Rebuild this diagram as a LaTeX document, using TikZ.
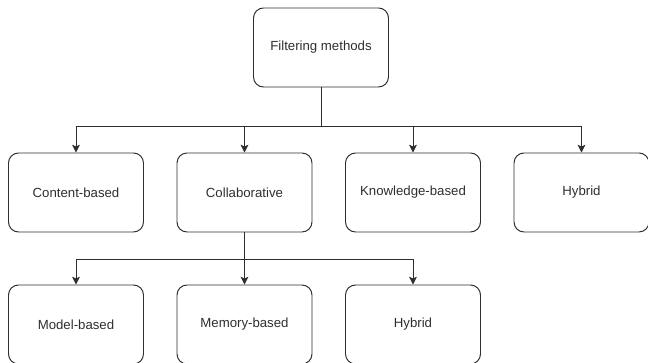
\documentclass[tikz,border=0pt]{standalone}
\usepackage{fontspec}
\setmainfont{Liberation Sans}
\usetikzlibrary{positioning}
\usetikzlibrary{shapes,arrows.meta}
\definecolor{inkgray}{HTML}{2E2E2E}
\tikzstyle{block} = [rectangle, draw=inkgray, line width=0.7pt, rounded corners=0.25cm,
    text=inkgray, minimum width=3.375cm, minimum height=1.975cm, inner sep=0pt,
    font=\fontsize{9.4}{11}\selectfont]
\tikzstyle{line} = [draw=inkgray, line width=0.7pt, -{Stealth[length=5.5pt,width=5.5pt,inset=1.2pt]}]
\tikzstyle{trunk} = [draw=inkgray, line width=0.7pt]

\begin{document}
\begin{tikzpicture}[node distance = 4.2125cm, auto]
    \useasboundingbox (-8.025,1.1875) rectangle (8.175,-7.8875);
    % Place nodes
    \node [block] (filt) {Filtering methods};
    \node [block, below of=filt, xshift=-1.9125cm, node distance=3.625cm] (collab) {Collaborative};
    \node [block, left of=collab] (content) {Content-based};
    \node [block, right of=collab] (know) {Knowledge-based};
    \node [block, right of=know] (hyb) {Hybrid};
    \node [block, below of=collab, node distance=3.3cm] (memory) {Memory-based};
    \node [block, left of=memory] (model) {Model-based};
    \node [block, right of=memory] (hybsub) {Hybrid};
    \coordinate [below of=filt, node distance=1.975cm] (fork);
    \coordinate [below of=collab, node distance=1.6625cm] (subfork);

    % Draw edges
    \path [trunk] (filt) -- (fork);
    \path [line] (fork) -| (content);
    \path [line] (fork) -| (collab);
    \path [line] (fork) -| (know);
    \path [line] (fork) -| (hyb);
    \path [trunk] (collab) -- (subfork);
    \path [line] (subfork) -| (model);
    \path [line] (subfork) -- (memory);
    \path [line] (subfork) -| (hybsub);
\end{tikzpicture}
\end{document}
